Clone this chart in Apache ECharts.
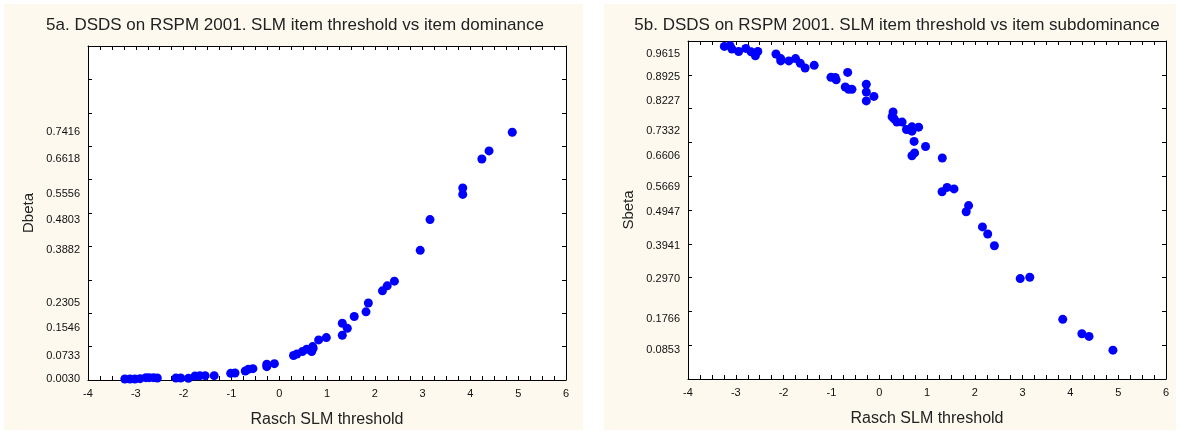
<!DOCTYPE html>
<html>
<head>
<meta charset="utf-8">
<script src="https://cdn.jsdelivr.net/npm/echarts@6/dist/echarts.min.js"></script>
<style>
html,body{margin:0;padding:0;background:#ffffff;}
#chart{width:1180px;height:434px;}
</style>
</head>
<body>
<div id="chart"></div>
<script>
// ---- Data ----
const titleA = '5a. DSDS on RSPM 2001. SLM item threshold vs item dominance';
const titleB = '5b. DSDS on RSPM 2001. SLM item threshold vs item subdominance';
const xName = 'Rasch SLM threshold';
const yNameA = 'Dbeta';
const yNameB = 'Sbeta';

const xTicksMin = -4;
const xTicksMax = 6;

// Panel 5a: threshold vs dominance
const aThreshold = [-3.23,-3.12,-3.02,-2.91,-2.79,-2.72,-2.63,-2.55,-2.16,-2.06,-1.90,-1.76,-1.66,-1.55,-1.36,
  -1.015,-0.925,-0.71,-0.645,-0.55,-0.26,-0.26,-0.10,0.30,0.37,0.485,0.575,0.68,0.70,0.71,0.825,0.986,
  1.32,1.32,1.425,1.57,1.816,1.865,2.16,2.26,2.41,2.95,3.155,3.84,3.84,4.24,4.39,4.876];
const aDominance = [0.003,0.003,0.003,0.004,0.007,0.007,0.007,0.006,0.006,0.006,0.005,0.012,0.013,0.013,0.013,
  0.020,0.021,0.027,0.032,0.034,0.040,0.047,0.049,0.0733,0.078,0.085,0.092,0.085,0.100,0.095,0.120,0.127,
  0.134,0.170,0.1546,0.190,0.204,0.2305,0.267,0.282,0.296,0.3882,0.4803,0.5556,0.575,0.6618,0.686,0.7416];
const aLabels = [0.0030,0.0733,0.1546,0.2305,0.3882,0.4803,0.5556,0.6618,0.7416];

// Panel 5b: threshold vs subdominance
const bThreshold = [-3.24,-3.12,-3.08,-2.94,-2.79,-2.68,-2.59,-2.54,-2.16,-2.06,-2.06,-1.89,-1.75,-1.65,-1.55,-1.36,
  -1.01,-0.92,-0.90,-0.66,-0.71,-0.64,-0.57,-0.27,-0.27,-0.27,-0.11,0.29,0.27,0.31,0.37,0.48,
  0.57,0.65,0.685,0.685,0.825,0.73,0.685,0.74,0.97,1.32,1.315,1.42,1.565,1.87,1.82,2.16,2.27,2.41,
  2.95,3.15,3.84,4.24,4.39,4.89];
const bSubdominance = [0.984,0.986,0.976,0.969,0.978,0.968,0.956,0.969,0.9615,0.941,0.948,0.941,0.948,0.934,0.920,0.928,
  0.8925,0.892,0.885,0.907,0.864,0.857,0.857,0.872,0.849,0.8227,0.836,0.790,0.776,0.770,0.760,0.760,
  0.738,0.738,0.7332,0.746,0.745,0.703,0.6606,0.669,0.688,0.654,0.554,0.5669,0.5625,0.513,0.4947,0.450,0.429,0.3941,
  0.2970,0.301,0.1766,0.134,0.126,0.0853];
const bLabels = [0.0853,0.1766,0.2970,0.3941,0.4947,0.5669,0.6606,0.7332,0.8227,0.8925,0.9615];

// ---- Chart ----
const font = 'Liberation Sans, Arial, sans-serif';
const blue = '#0000ff';
const axisColor = '#000000';

function xAxes(gridIndex){
  return [{
    gridIndex, type:'value', position:'bottom', min:xTicksMin, max:xTicksMax, interval:1,
    axisLine:{show:true,onZero:false,lineStyle:{color:axisColor,width:1}},
    axisTick:{show:true,inside:true,length:4,lineStyle:{color:axisColor}},
    minorTick:{show:true,splitNumber:4,length:4,lineStyle:{color:axisColor}},
    splitLine:{show:false},
    axisLabel:{color:'#111',fontSize:11,fontFamily:font,margin:8},
    name:xName, nameLocation:'middle', nameGap:32,
    nameTextStyle:{color:'#222',fontSize:16,fontFamily:font}
  },{
    gridIndex, type:'value', position:'top', min:xTicksMin, max:xTicksMax, interval:1,
    axisLine:{show:true,onZero:false,lineStyle:{color:axisColor,width:1}},
    axisTick:{show:true,inside:true,length:4,lineStyle:{color:axisColor}},
    minorTick:{show:true,splitNumber:4,length:4,lineStyle:{color:axisColor}},
    splitLine:{show:false}, axisLabel:{show:false}
  }];
}
function yAxes(gridIndex, labels, name){
  return [{
    gridIndex, type:'value', position:'left', min:0, max:1, interval:0.1,
    axisLine:{show:true,onZero:false,lineStyle:{color:axisColor,width:1}},
    axisTick:{show:true,inside:true,length:4,lineStyle:{color:axisColor}},
    splitLine:{show:false},
    axisLabel:{color:'#111',fontSize:11,fontFamily:font,margin:8,
      customValues:labels, formatter:v=>Number(v).toFixed(4)},
    name, nameLocation:'middle', nameGap:52,
    nameTextStyle:{color:'#222',fontSize:15,fontFamily:font}
  },{
    gridIndex, type:'value', position:'right', min:0, max:1, interval:0.1,
    axisLine:{show:true,onZero:false,lineStyle:{color:axisColor,width:1}},
    axisTick:{show:true,inside:true,length:4,lineStyle:{color:axisColor}},
    splitLine:{show:false}, axisLabel:{show:false}
  }];
}

const chart = echarts.init(document.getElementById('chart'), null, {renderer:'canvas'});
chart.setOption({
  animation:false,
  backgroundColor:'#ffffff',
  graphic:[
    {type:'rect', z:-10, shape:{x:4,y:4,width:579,height:426}, style:{fill:'#fdf9ee'}},
    {type:'rect', z:-10, shape:{x:604,y:4,width:572,height:426}, style:{fill:'#fdf9ee'}}
  ],
  title:[
    {text:titleA, left:290, top:12, textAlign:'center',
      textStyle:{fontSize:17,fontWeight:'normal',color:'#222',fontFamily:font}},
    {text:titleB, left:892, top:12, textAlign:'center',
      textStyle:{fontSize:17,fontWeight:'normal',color:'#222',fontFamily:font}}
  ],
  grid:[
    {left:88, top:46, width:478, height:334, show:true, backgroundColor:'#ffffff', borderWidth:0},
    {left:688, top:41, width:478, height:338, show:true, backgroundColor:'#ffffff', borderWidth:0}
  ],
  xAxis:[...xAxes(0), ...xAxes(1)],
  yAxis:[...yAxes(0, aLabels, yNameA), ...yAxes(1, bLabels, yNameB)],
  series:[
    {type:'scatter', xAxisIndex:0, yAxisIndex:0, symbol:'circle', symbolSize:9,
      itemStyle:{color:blue,opacity:1}, data:aThreshold.map((x,i)=>[x,aDominance[i]])},
    {type:'scatter', xAxisIndex:2, yAxisIndex:2, symbol:'circle', symbolSize:9,
      itemStyle:{color:blue,opacity:1}, data:bThreshold.map((x,i)=>[x,bSubdominance[i]])}
  ]
});
</script>
</body>
</html>
